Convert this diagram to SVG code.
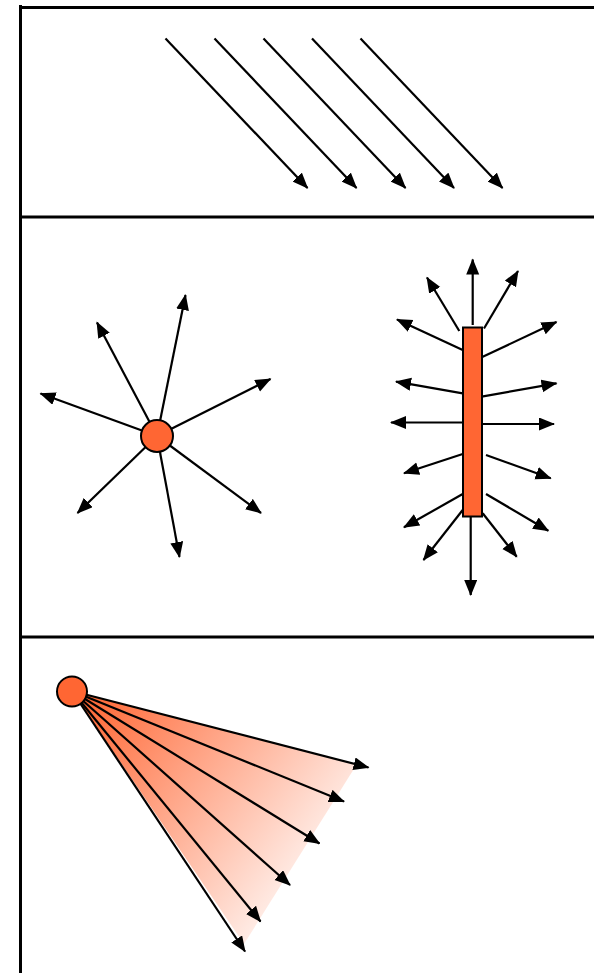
<svg xmlns="http://www.w3.org/2000/svg" width="594" height="976" viewBox="0 0 594 976">
<style>
.frame{stroke:#000;stroke-width:3;fill:none}
.ray{stroke:#000;stroke-width:2.2;fill:none;marker-end:url(#ah)}
.src{fill:#FF6633;stroke:#000;stroke-width:2}
</style>
<defs>
<marker id="ah" markerUnits="userSpaceOnUse" markerWidth="17" markerHeight="14" refX="15" refY="6.5" orient="auto">
<path d="M0,0 L16,6.5 L0,13 z" fill="#000"/>
</marker>
<linearGradient id="spot" gradientUnits="userSpaceOnUse" x1="80" y1="700" x2="320" y2="880">
<stop offset="0" stop-color="#FF6633"/>
<stop offset="1" stop-color="#FF6633" stop-opacity="0.06"/>
</linearGradient>
</defs>
<g id="frame">
<line class="frame" x1="20.5" y1="5" x2="20.5" y2="973"/>
<line class="frame" x1="19" y1="7.5" x2="594" y2="7.5"/>
<line class="frame" x1="19" y1="217" x2="594" y2="217"/>
<line class="frame" x1="19" y1="637" x2="594" y2="637"/>
</g>
<g id="directional">
<line class="ray" x1="165.5" y1="38.5" x2="307.5" y2="188"/>
<line class="ray" x1="214.5" y1="38.5" x2="356.5" y2="188"/>
<line class="ray" x1="263.5" y1="38.5" x2="405.5" y2="188"/>
<line class="ray" x1="312" y1="38.5" x2="454" y2="188"/>
<line class="ray" x1="360.5" y1="38.5" x2="502.5" y2="188"/>
</g>
<g id="point-light">
<line class="ray" x1="157" y1="436" x2="185.5" y2="295"/>
<line class="ray" x1="157" y1="436" x2="97" y2="322.5"/>
<line class="ray" x1="157" y1="436" x2="40.5" y2="393.5"/>
<line class="ray" x1="157" y1="436" x2="270.5" y2="379"/>
<line class="ray" x1="157" y1="436" x2="77.5" y2="513"/>
<line class="ray" x1="157" y1="436" x2="179.5" y2="557"/>
<line class="ray" x1="157" y1="436" x2="261" y2="513"/>
<circle class="src" cx="157" cy="436" r="16"/>
</g>
<g id="line-light">
<line class="ray" x1="472.7" y1="325" x2="472.7" y2="259.5"/>
<line class="ray" x1="459.3" y1="331" x2="427" y2="277.5"/>
<line class="ray" x1="484" y1="328.5" x2="518" y2="271"/>
<line class="ray" x1="462.7" y1="350" x2="397" y2="319.5"/>
<line class="ray" x1="481.7" y1="357.3" x2="556.5" y2="322"/>
<line class="ray" x1="462.7" y1="393.3" x2="396" y2="381.7"/>
<line class="ray" x1="481.7" y1="396.7" x2="556.5" y2="383.3"/>
<line class="ray" x1="462.7" y1="422.5" x2="391" y2="422.5"/>
<line class="ray" x1="481.7" y1="424" x2="554" y2="424"/>
<line class="ray" x1="462.7" y1="454" x2="404" y2="473.3"/>
<line class="ray" x1="486" y1="455" x2="550.7" y2="478.3"/>
<line class="ray" x1="462.7" y1="494" x2="404" y2="527.3"/>
<line class="ray" x1="486" y1="494" x2="548.3" y2="530.7"/>
<line class="ray" x1="462.7" y1="510" x2="423.5" y2="560"/>
<line class="ray" x1="482.7" y1="513.3" x2="516.7" y2="556.7"/>
<line class="ray" x1="470.7" y1="517" x2="470.7" y2="595"/>
<rect class="src" x="463" y="327.5" width="19" height="189"/>
</g>
<g id="spot-light">
<polygon points="72,691 357,764 244,944" fill="url(#spot)"/>
<line class="ray" x1="72" y1="691" x2="368.5" y2="767.5"/>
<line class="ray" x1="72" y1="691" x2="344" y2="801.5"/>
<line class="ray" x1="72" y1="691" x2="319.5" y2="843.5"/>
<line class="ray" x1="72" y1="691" x2="290" y2="885"/>
<line class="ray" x1="72" y1="691" x2="260.5" y2="921.5"/>
<line class="ray" x1="72" y1="691" x2="245" y2="951.5"/>
<circle class="src" cx="72" cy="691.5" r="15"/>
</g>
</svg>
